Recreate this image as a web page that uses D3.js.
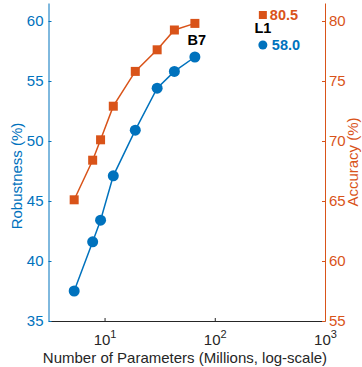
<!DOCTYPE html>
<html>
<head>
<meta charset="utf-8">
<script src="https://cdn.jsdelivr.net/npm/d3@7"></script>
<style>
  body { margin: 0; background: #fff; }
  svg { font-family: "Liberation Sans", Arial, sans-serif; }
</style>
</head>
<body>
<div id="chart"></div>
<script>
// model sizes (millions of params), B0..B7
const params = [5.3, 7.8, 9.2, 12, 19, 30, 43, 66];
const robustness = [37.5, 41.6, 43.4, 47.1, 50.9, 54.4, 55.8, 57.0];
const accuracy = [65.1, 68.4, 70.1, 72.9, 75.8, 77.6, 79.25, 79.8];
// the single large model
const l1Params = [273];
const l1Robust = [58.0];
const l1Acc = [80.5];
const xTicks = [10, 100, 1000];
const leftTicks = [35, 40, 45, 50, 55, 60];
const rightTicks = [55, 60, 65, 70, 75, 80];

const blue = '#0072BD', orange = '#D95319';
const W = 362, H = 367;
const m = {top: 3, right: 37, bottom: 46, left: 48.5};

const svg = d3.select('#chart').append('svg')
  .attr('width', W).attr('height', H);

const x = d3.scaleLog().domain([3.1, 1000]).range([m.left, W - m.right]);
const yL = d3.scaleLinear().domain([35, 61.5]).range([H - m.bottom, m.top]);
const yR = d3.scaleLinear().domain([55, 81.5]).range([H - m.bottom, m.top]);

// x axis
const xAxis = svg.append('g')
  .attr('transform', `translate(0,${H - m.bottom})`)
  .call(d3.axisBottom(x).tickValues(xTicks).tickSizeInner(-3).tickSizeOuter(0).tickFormat(''));
xAxis.select('.domain').attr('stroke', '#262626').attr('stroke-width', 1);
xAxis.selectAll('.tick line').attr('stroke', '#262626');
xAxis.selectAll('.tick').each(function(d) {
  const t = d3.select(this).append('text')
    .attr('fill', '#262626').attr('y', 24).attr('font-size', 15)
    .attr('text-anchor', 'middle');
  t.append('tspan').text('10');
  t.append('tspan').attr('dy', -7).attr('font-size', 11).text(Math.round(Math.log10(d)));
});

// left axis
const la = svg.append('g')
  .attr('transform', `translate(${m.left},0)`)
  .call(d3.axisLeft(yL).tickValues(leftTicks).tickSizeInner(-3).tickSizeOuter(0));
la.select('.domain').attr('stroke', blue);
la.selectAll('.tick line').attr('stroke', blue);
la.selectAll('.tick text').attr('fill', blue).attr('font-size', 15).attr('x', -5);

// right axis
const ra = svg.append('g')
  .attr('transform', `translate(${W - m.right},0)`)
  .call(d3.axisRight(yR).tickValues(rightTicks).tickSizeInner(-3).tickSizeOuter(0));
ra.select('.domain').attr('stroke', orange);
ra.selectAll('.tick line').attr('stroke', orange);
ra.selectAll('.tick text').attr('fill', orange).attr('font-size', 15).attr('x', 4);

// axis titles
svg.append('text')
  .attr('transform', 'translate(22,176) rotate(-90)')
  .attr('text-anchor', 'middle').attr('font-size', 15).attr('fill', blue)
  .text('Robustness (%)');
svg.append('text')
  .attr('transform', 'translate(358,162) rotate(-90)')
  .attr('text-anchor', 'middle').attr('font-size', 15).attr('fill', orange)
  .text('Accuracy (%)');
svg.append('text')
  .attr('x', 185).attr('y', 363)
  .attr('text-anchor', 'middle').attr('font-size', 15).attr('fill', '#262626')
  .text('Number of Parameters (Millions, log-scale)');

// accuracy line + squares
const accLine = d3.line().x((d, i) => x(params[i])).y(d => yR(d));
svg.append('path').datum(accuracy)
  .attr('d', accLine).attr('fill', 'none').attr('stroke', orange).attr('stroke-width', 1.5);
svg.selectAll('rect.acc').data(accuracy).join('rect')
  .attr('class', 'acc')
  .attr('x', (d, i) => x(params[i]) - 4.5).attr('y', d => yR(d) - 4.5)
  .attr('width', 9).attr('height', 9).attr('fill', orange);

// robustness line + circles
const robLine = d3.line().x((d, i) => x(params[i])).y(d => yL(d));
svg.append('path').datum(robustness)
  .attr('d', robLine).attr('fill', 'none').attr('stroke', blue).attr('stroke-width', 1.5);
svg.selectAll('circle.rob').data(robustness).join('circle')
  .attr('class', 'rob')
  .attr('cx', (d, i) => x(params[i])).attr('cy', d => yL(d))
  .attr('r', 5.5).attr('fill', blue);

// L1 points
svg.selectAll('rect.l1').data(l1Acc).join('rect')
  .attr('class', 'l1')
  .attr('x', (d, i) => x(l1Params[i]) - 4).attr('y', d => yR(d) - 4)
  .attr('width', 8).attr('height', 8).attr('fill', orange);
svg.selectAll('circle.l1').data(l1Robust).join('circle')
  .attr('class', 'l1')
  .attr('cx', (d, i) => x(l1Params[i])).attr('cy', d => yL(d))
  .attr('r', 4.5).attr('fill', blue);

// labels
const bold = (sel) => sel.attr('font-weight', 'bold').attr('font-size', 14.5);
svg.append('text').call(bold)
  .attr('x', x(params[7]) + 2).attr('y', yL(robustness[7]) - 12)
  .attr('text-anchor', 'middle').attr('fill', '#000').text('B7');
svg.append('text').call(bold)
  .attr('x', x(l1Params[0])).attr('y', 33)
  .attr('text-anchor', 'middle').attr('fill', '#000').text('L1');
svg.append('text').call(bold)
  .attr('x', x(l1Params[0]) + 7).attr('y', yR(l1Acc[0]) + 5)
  .attr('fill', orange).text(l1Acc[0].toFixed(1));
svg.append('text').call(bold)
  .attr('x', x(l1Params[0]) + 9).attr('y', yL(l1Robust[0]) + 5)
  .attr('fill', blue).text(l1Robust[0].toFixed(1));
</script>
</body>
</html>
